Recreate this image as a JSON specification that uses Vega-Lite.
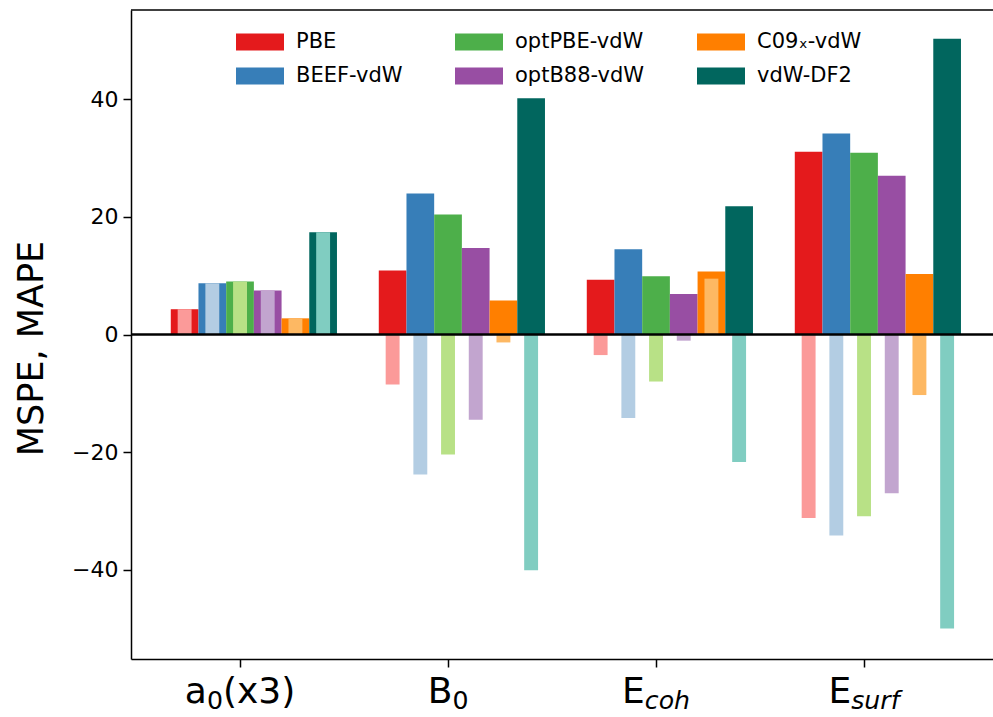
{
  "$schema": "https://vega.github.io/schema/vega-lite/v6.json",
  "autosize": {"type": "none"},
  "padding": {"left": 131, "top": 10, "right": 0, "bottom": 58},
  "width": 862,
  "height": 649,
  "background": "white",
  "datasets": {
    "errors": [
      {"quantity": "a0", "method": "PBE", "mape": 4.3, "mspe": 4.3},
      {"quantity": "a0", "method": "BEEF-vdW", "mape": 8.7, "mspe": 8.7},
      {"quantity": "a0", "method": "optPBE-vdW", "mape": 9.0, "mspe": 9.0},
      {"quantity": "a0", "method": "optB88-vdW", "mape": 7.5, "mspe": 7.5},
      {"quantity": "a0", "method": "C09ₓ-vdW", "mape": 2.75, "mspe": 2.75},
      {"quantity": "a0", "method": "vdW-DF2", "mape": 17.4, "mspe": 17.4},
      {"quantity": "B0", "method": "PBE", "mape": 10.9, "mspe": -8.5},
      {"quantity": "B0", "method": "BEEF-vdW", "mape": 24.0, "mspe": -23.8},
      {"quantity": "B0", "method": "optPBE-vdW", "mape": 20.4, "mspe": -20.4},
      {"quantity": "B0", "method": "optB88-vdW", "mape": 14.7, "mspe": -14.5},
      {"quantity": "B0", "method": "C09ₓ-vdW", "mape": 5.8, "mspe": -1.35},
      {"quantity": "B0", "method": "vdW-DF2", "mape": 40.2, "mspe": -40.1},
      {"quantity": "Ecoh", "method": "PBE", "mape": 9.3, "mspe": -3.5},
      {"quantity": "Ecoh", "method": "BEEF-vdW", "mape": 14.5, "mspe": -14.2},
      {"quantity": "Ecoh", "method": "optPBE-vdW", "mape": 9.9, "mspe": -8.0},
      {"quantity": "Ecoh", "method": "optB88-vdW", "mape": 6.9, "mspe": -1.05},
      {"quantity": "Ecoh", "method": "C09ₓ-vdW", "mape": 10.7, "mspe": 9.5},
      {"quantity": "Ecoh", "method": "vdW-DF2", "mape": 21.8, "mspe": -21.7},
      {"quantity": "Esurf", "method": "PBE", "mape": 31.1, "mspe": -31.2},
      {"quantity": "Esurf", "method": "BEEF-vdW", "mape": 34.2, "mspe": -34.2},
      {"quantity": "Esurf", "method": "optPBE-vdW", "mape": 30.9, "mspe": -30.9},
      {"quantity": "Esurf", "method": "optB88-vdW", "mape": 27.0, "mspe": -27.0},
      {"quantity": "Esurf", "method": "C09ₓ-vdW", "mape": 10.3, "mspe": -10.3},
      {"quantity": "Esurf", "method": "vdW-DF2", "mape": 50.3, "mspe": -50.0}
    ]
  },
  "data": {"name": "errors"},
  "layer": [
    {
      "mark": {"type": "bar"},
      "encoding": {
        "x": {
          "field": "quantity", "type": "nominal", "title": null,
          "scale": {"domain": ["a0", "B0", "Ecoh", "Esurf"], "paddingInner": 0.201, "paddingOuter": 0.1726, "align": 0.554},
          "axis": {"labels": false, "ticks": true, "bandPosition": 0.4167, "title": null}
        },
        "xOffset": {
          "field": "method", "type": "nominal",
          "scale": {"domain": ["PBE", "BEEF-vdW", "optPBE-vdW", "optB88-vdW", "C09ₓ-vdW", "vdW-DF2"], "paddingInner": 0, "paddingOuter": 0}
        },
        "y": {
          "field": "mape", "type": "quantitative", "title": "MSPE, MAPE",
          "scale": {"domain": [-55.2, 55.2], "nice": false, "zero": false},
          "axis": {"values": [-40, -20, 0, 20, 40], "labelFontSize": 22, "titleFontSize": 35, "titleFontWeight": "normal", "titlePadding": 22, "titleY": 338, "labelPadding": 5}
        },
        "color": {
          "field": "method", "type": "nominal",
          "scale": {
            "domain": ["PBE", "BEEF-vdW", "optPBE-vdW", "optB88-vdW", "C09ₓ-vdW", "vdW-DF2"],
            "range": ["#e41a1c", "#377eb8", "#4daf4a", "#984ea3", "#ff7f00", "#01665e"]
          },
          "legend": {
            "orient": "none", "legendX": 105, "legendY": 8, "columns": 3,
            "title": null, "columnPadding": 52, "rowPadding": -24,
            "symbolType": "M-1,-0.35L1,-0.35L1,0.35L-1,0.35Z", "symbolSize": 2304,
            "symbolStrokeWidth": 0, "symbolOpacity": 1,
            "labelFontSize": 21, "labelOffset": 12, "labelFont": "DejaVu Sans", "labelColor": "#000"
          }
        }
      }
    },
    {
      "mark": {"type": "bar", "width": 13.9},
      "encoding": {
        "x": {"field": "quantity", "type": "nominal", "title": null},
        "xOffset": {"field": "method", "type": "nominal"},
        "y": {"field": "mspe", "type": "quantitative", "title": "MSPE, MAPE"},
        "color": {
          "field": "method", "type": "nominal", "legend": null,
          "scale": {
            "domain": ["PBE", "BEEF-vdW", "optPBE-vdW", "optB88-vdW", "C09ₓ-vdW", "vdW-DF2"],
            "range": ["#fb9a99", "#b3cde3", "#b8e186", "#c2a5cf", "#fdb863", "#80cdc1"]
          }
        }
      }
    },
    {
      "data": {"values": [{}]},
      "mark": {"type": "rule", "color": "#000", "strokeWidth": 2.5},
      "encoding": {"y": {"datum": 0, "type": "quantitative", "title": "MSPE, MAPE"}}
    },
    {
      "data": {"values": [{}]},
      "mark": {"type": "rule", "color": "#000", "strokeWidth": 1.5},
      "encoding": {"y": {"datum": 55.2, "type": "quantitative", "title": "MSPE, MAPE"}}
    },
    {
      "data": {"values": [{}]},
      "layer": [
        {"mark": {"type": "text", "text": "a", "align": "left", "dx": -55.2, "fontSize": 36},
         "encoding": {"x": {"datum": "a0", "type": "nominal", "bandPosition": 0.4167, "title": null}}},
        {"mark": {"type": "text", "text": "0", "align": "left", "dx": -33.1, "dy": 6, "fontSize": 25.2},
         "encoding": {"x": {"datum": "a0", "type": "nominal", "bandPosition": 0.4167, "title": null}}},
        {"mark": {"type": "text", "text": "(x3)", "align": "left", "dx": -17.1, "fontSize": 36},
         "encoding": {"x": {"datum": "a0", "type": "nominal", "bandPosition": 0.4167, "title": null}}},
        {"mark": {"type": "text", "text": "B", "align": "left", "dx": -20.35, "fontSize": 36},
         "encoding": {"x": {"datum": "B0", "type": "nominal", "bandPosition": 0.4167, "title": null}}},
        {"mark": {"type": "text", "text": "0", "align": "left", "dx": 4.35, "dy": 6, "fontSize": 25.2},
         "encoding": {"x": {"datum": "B0", "type": "nominal", "bandPosition": 0.4167, "title": null}}},
        {"mark": {"type": "text", "text": "E", "align": "left", "dx": -34.0, "fontSize": 36},
         "encoding": {"x": {"datum": "Ecoh", "type": "nominal", "bandPosition": 0.4167, "title": null}}},
        {"mark": {"type": "text", "text": "coh", "align": "left", "dx": -11.25, "dy": 6, "fontSize": 25.2, "fontStyle": "italic"},
         "encoding": {"x": {"datum": "Ecoh", "type": "nominal", "bandPosition": 0.4167, "title": null}}},
        {"mark": {"type": "text", "text": "E", "align": "left", "dx": -35.5, "fontSize": 36},
         "encoding": {"x": {"datum": "Esurf", "type": "nominal", "bandPosition": 0.4167, "title": null}}},
        {"mark": {"type": "text", "text": "surf", "align": "left", "dx": -12.8, "dy": 6, "fontSize": 25.2, "fontStyle": "italic"},
         "encoding": {"x": {"datum": "Esurf", "type": "nominal", "bandPosition": 0.4167, "title": null}}}
      ],
      "encoding": {"y": {"datum": -62.6, "type": "quantitative", "title": "MSPE, MAPE"}}
    }
  ],
  "resolve": {"scale": {"color": "independent"}},
  "config": {
    "view": {"stroke": null},
    "font": "DejaVu Sans",
    "text": {"font": "DejaVu Sans", "color": "#000", "baseline": "alphabetic"},
    "axis": {
      "grid": false, "domainColor": "#000", "domainWidth": 1.5,
      "tickColor": "#000", "tickWidth": 1.5, "tickSize": 8,
      "labelColor": "#000", "titleColor": "#000",
      "labelFont": "DejaVu Sans", "titleFont": "DejaVu Sans"
    }
  }
}
